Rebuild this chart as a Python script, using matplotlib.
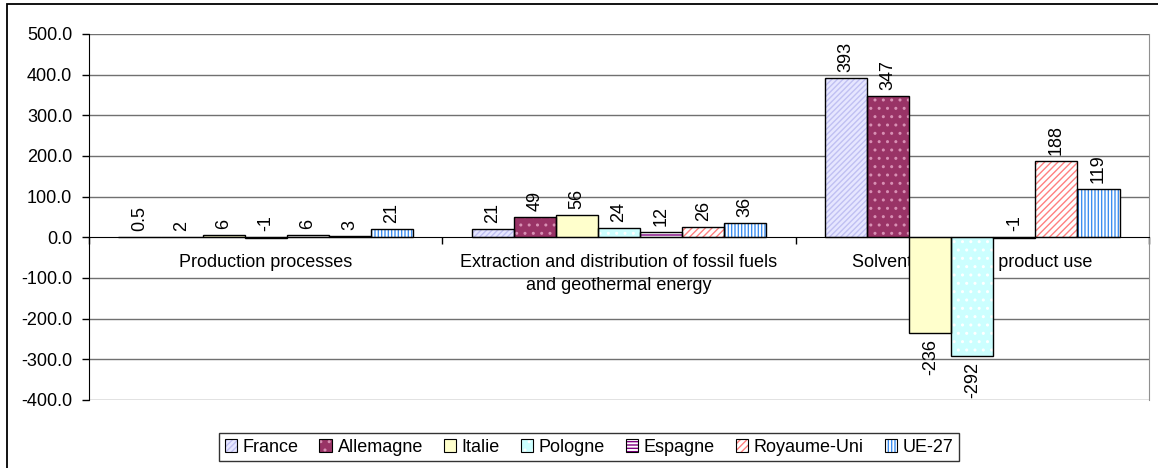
import matplotlib
matplotlib.use("Agg")
import matplotlib.pyplot as plt
from matplotlib.patches import Patch, Rectangle
from matplotlib.legend_handler import HandlerTuple

plt.rcParams['font.family'] = ['Liberation Sans', 'DejaVu Sans']
plt.rcParams['hatch.linewidth'] = 1.0

categories = ["Production processes",
              "Extraction and distribution of fossil fuels\nand geothermal energy",
              "Solvent and other product use"]
series_names = ["France", "Allemagne", "Italie", "Pologne", "Espagne", "Royaume-Uni", "UE-27"]
france = [0.5, 21, 393]
allemagne = [2, 49, 347]
italie = [6, 56, -236]
pologne = [-1, 24, -292]
espagne = [6, 12, -1]
royaume_uni = [3, 26, 188]
ue27 = [21, 36, 119]
values = [france, allemagne, italie, pologne, espagne, royaume_uni, ue27]
yticks = [500, 400, 300, 200, 100, 0, -100, -200, -300, -400]

styles = [
    dict(face="#e6e6ff", hatch="//////", hc="#c0c0f2"),
    dict(face="#993366", hatch="..", hc="#d890b4"),
    dict(face="#ffffcc", hatch=None, hc=None),
    dict(face="#ccffff", hatch="..", hc="#ffffff"),
    dict(face="#ffffff", hatch="-----", hc="#800080"),
    dict(face="#ffffff", hatch="/////", hc="#ff8080"),
    dict(face="#ffffff", hatch="|||||", hc="#3d8ef0"),
]

FS = 13
W, H = 1158, 468
fig = plt.figure(figsize=(W / 100, H / 100), dpi=100)
ax = fig.add_axes([89 / W, 1 - 400 / H, (1149 - 89) / W, (400 - 34) / H])

n = len(series_names)
gap = 1.4
bw = 1.0 / (n + gap)
handles = []
for k, (name, vals, st) in enumerate(zip(series_names, values, styles)):
    xs = [i + 0.5 + (k - (n - 1) / 2) * bw for i in range(len(categories))]
    ax.bar(xs, vals, width=bw, color=st["face"], linewidth=0, zorder=3)
    if st["hatch"]:
        ax.bar(xs, vals, width=bw, fill=False, hatch=st["hatch"],
               edgecolor=st["hc"], linewidth=0, zorder=3.5)
    ax.bar(xs, vals, width=bw, fill=False, edgecolor="black", linewidth=1, zorder=4)
    for x, v in zip(xs, vals):
        txt = f"{v:g}"
        if v < 0 and abs(v) > 5:
            ax.annotate(txt, (x, v), xytext=(0, -6), textcoords="offset pixels",
                        rotation=90, ha="center", va="top", fontsize=FS, zorder=5)
        else:
            ax.annotate(txt, (x, max(v, 0)), xytext=(0, 6), textcoords="offset pixels",
                        rotation=90, ha="center", va="bottom", fontsize=FS, zorder=5)
    base = Patch(facecolor=st["face"], linewidth=0)
    parts = [base]
    if st["hatch"]:
        parts.append(Patch(fill=False, hatch=st["hatch"], edgecolor=st["hc"], linewidth=0))
    parts.append(Patch(fill=False, edgecolor="black", linewidth=0.8))
    handles.append(tuple(parts))

for i, c in enumerate(categories):
    ax.annotate(c, (i + 0.5, 0), xytext=(0, -17), textcoords="offset pixels",
                ha="center", va="top", multialignment="center", fontsize=FS,
                zorder=1, linespacing=1.4)

ax.set_xlim(0, 3)
ax.set_ylim(-400, 500)
ax.set_yticks(yticks)
ax.set_yticklabels([f"{t:.1f}" for t in yticks], fontsize=FS)
ax.set_xticks([0, 1, 2, 3])
ax.set_xticklabels([])
ax.tick_params(axis="y", length=5, width=1, pad=7, direction="out")
ax.tick_params(axis="x", length=5, width=1, direction="out")
for t in yticks:
    if t != 0:
        ax.axhline(t, color="#707070", linewidth=1, zorder=0.5)
ax.spines["bottom"].set_position(("data", 0))
ax.spines["bottom"].set_color("black")
ax.spines["bottom"].set_zorder(4.5)
ax.spines["left"].set_color("black")
ax.spines["top"].set_visible(False)
ax.spines["right"].set_color("#909090")

leg = fig.legend(handles, series_names, loc="center", bbox_to_anchor=(589 / W, 1 - 447 / H),
                 ncol=7, fontsize=FS, frameon=True, fancybox=False,
                 handlelength=0.7, handleheight=0.7, handletextpad=0.3,
                 columnspacing=1.15, borderpad=0.3,
                 handler_map={tuple: HandlerTuple(ndivide=1)})
leg.get_frame().set_edgecolor("black")
leg.get_frame().set_linewidth(1)

fig.patches.append(Rectangle((7.5 / W, -0.1), 1.2, 1.1 - 4.5 / H, transform=fig.transFigure,
                             fill=False, edgecolor="black", linewidth=1.3))

fig.savefig("out.png", dpi=100)
